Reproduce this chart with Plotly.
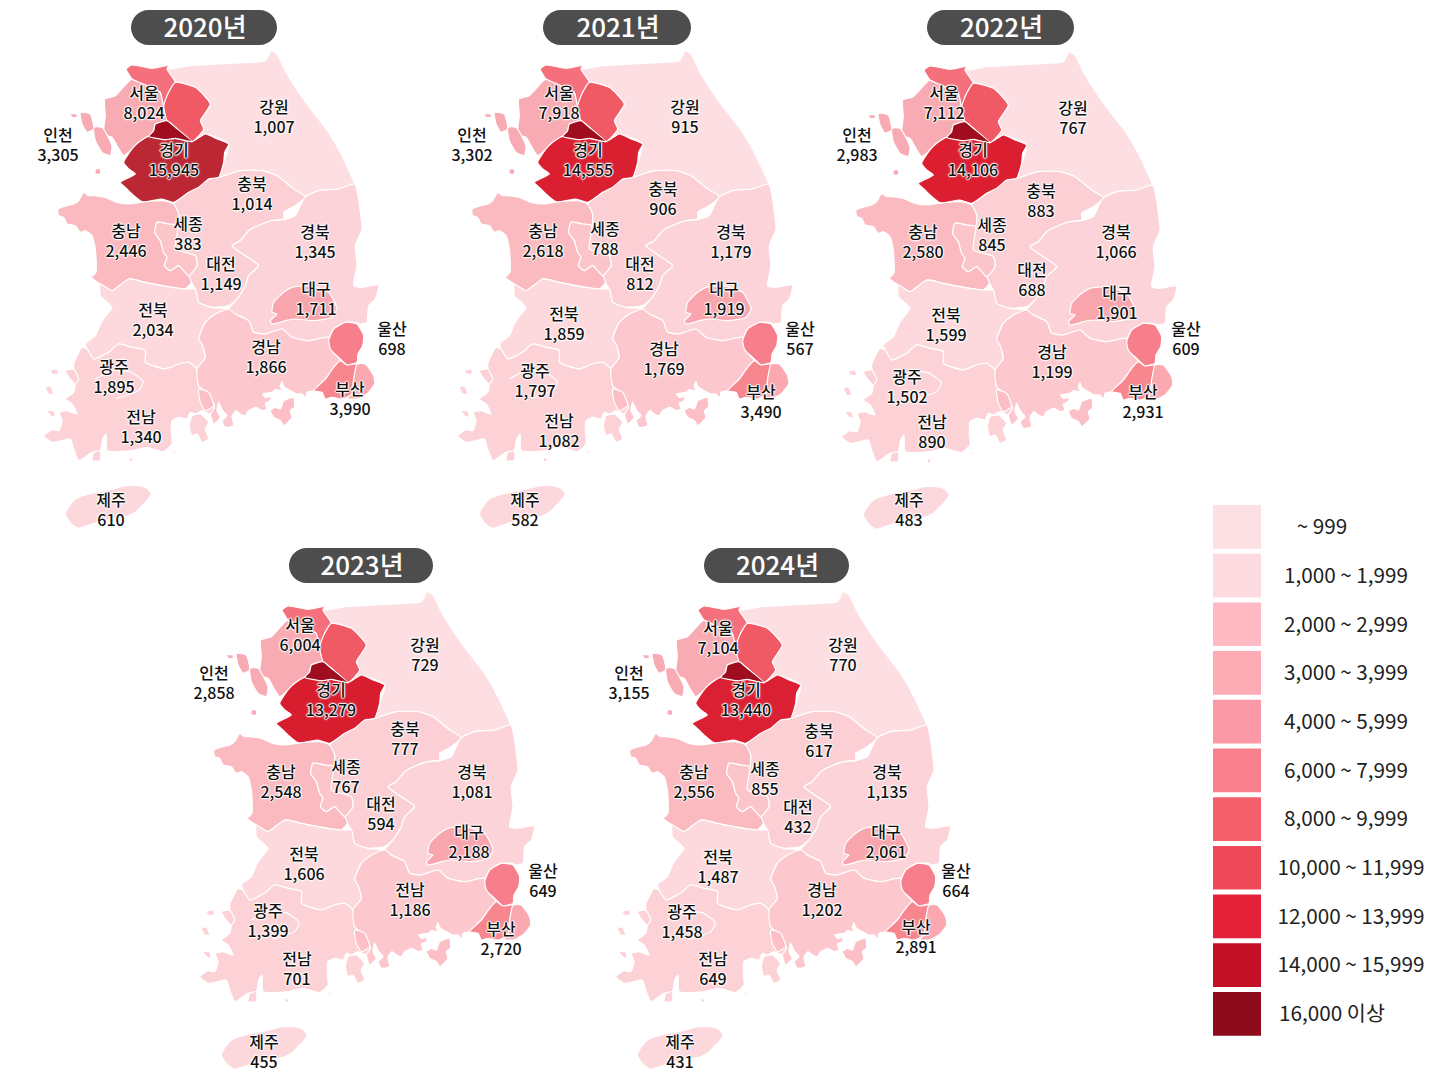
import plotly.graph_objects as go

years = ["2020년", "2021년", "2022년", "2023년", "2024년"]
regions = ["서울", "강원", "인천", "경기", "충북", "충남", "세종", "경북", "대전", "대구", "전북", "울산", "경남", "부산", "광주", "전남", "제주"]
values_2020 = [8024, 1007, 3305, 15945, 1014, 2446, 383, 1345, 1149, 1711, 2034, 698, 1866, 3990, 1895, 1340, 610]
values_2021 = [7918, 915, 3302, 14555, 906, 2618, 788, 1179, 812, 1919, 1859, 567, 1769, 3490, 1797, 1082, 582]
values_2022 = [7112, 767, 2983, 14106, 883, 2580, 845, 1066, 688, 1901, 1599, 609, 1199, 2931, 1502, 890, 483]
values_2023 = [6004, 729, 2858, 13279, 777, 2548, 767, 1081, 594, 2188, 1606, 649, 1186, 2720, 1399, 701, 455]
values_2024 = [7104, 770, 3155, 13440, 617, 2556, 855, 1135, 432, 2061, 1487, 664, 1202, 2891, 1458, 649, 431]
all_values = [values_2020, values_2021, values_2022, values_2023, values_2024]
legend_labels = ["~ 999", "1,000 ~ 1,999", "2,000 ~ 2,999", "3,000 ~ 3,999", "4,000 ~ 5,999", "6,000 ~ 7,999",
                 "8,000 ~ 9,999", "10,000 ~ 11,999", "12,000 ~ 13,999", "14,000 ~ 15,999", "16,000 이상"]

legend_colors = ["#fde0e4", "#fddbe0", "#feb9c2", "#fdabb4", "#fb9aa6", "#f87f8c",
                 "#f35f6b", "#ef4a5a", "#e3223a", "#c41027", "#8c0c1c"]
legend_text_x = [1322, 1346, 1346, 1346, 1346, 1346, 1346, 1351, 1351, 1351, 1332]
gyeonggi_colors = ["#bb2733", "#d91f30", "#dc1f30", "#d81e2e", "#dc2033"]

# where each panel sits, the map outlines below are traced on the 2020 panel
panel_dx = [0, 414, 798, 156, 572]
panel_dy = [0, 0, 1, 541, 541]
pill_x = [(131, 277), (543, 691), (927, 1074), (289, 433), (704, 849)]
pill_y = [(10, 45), (10, 45), (10, 45), (548, 583), (548, 583)]

label_x = [
    [144, 274, 58, 174, 252, 126, 188, 315, 221, 316, 153, 392, 266, 350, 114, 141, 111],
    [559, 685, 472, 588, 663, 543, 605, 731, 640, 724, 564, 800, 664, 761, 535, 559, 525],
    [944, 1073, 857, 973, 1041, 923, 992, 1116, 1032, 1117, 946, 1186, 1052, 1143, 907, 932, 909],
    [300, 425, 214, 331, 405, 281, 346, 472, 381, 469, 304, 543, 410, 501, 268, 297, 264],
    [718, 843, 629, 746, 819, 694, 765, 887, 798, 886, 718, 956, 822, 916, 682, 713, 680],
]
label_y = [
    [105, 119, 147, 162, 196, 243, 236, 244, 276, 301, 322, 341, 359, 401, 379, 429, 512],
    [105, 119, 147, 162, 201, 243, 241, 244, 276, 301, 326, 341, 361, 404, 383, 433, 512],
    [105, 120, 147, 162, 203, 244, 237, 244, 282, 305, 327, 341, 364, 404, 389, 434, 512],
    [637, 657, 685, 702, 741, 784, 779, 784, 816, 844, 866, 883, 902, 941, 923, 971, 1054],
    [640, 657, 685, 702, 743, 784, 781, 784, 819, 844, 869, 883, 902, 939, 924, 971, 1054],
]


def south(pts):
    return [(x, y + 690) for x, y in pts]


# outlines, one unit is a third of a pixel
gangwon = [(415, 60), (470, 50), (560, 45), (650, 40), (700, 35), (718, 5), (735, 15), (760, 65), (800, 130), (840, 185),
           (890, 250), (930, 320), (960, 385), (968, 405), (920, 420), (860, 425), (820, 443), (785, 420), (735, 380),
           (690, 365), (625, 365), (560, 385), (575, 340), (590, 285), (520, 255), (480, 278), (515, 240), (505, 215),
           (535, 165), (490, 115), (430, 100), (405, 60)]
seoul_lobe = [(282, 60), (300, 48), (360, 58), (410, 50), (405, 60), (430, 100), (410, 130), (395, 170), (385, 130),
              (345, 110), (300, 90), (290, 75)]
seoul_east = [(430, 100), (490, 115), (535, 165), (505, 215), (515, 240), (480, 278), (430, 235), (405, 215), (395, 170),
              (410, 130)]
west_gg = [(218, 150), (250, 140), (300, 90), (345, 110), (385, 130), (395, 170), (405, 215), (370, 225), (365, 245),
           (350, 262), (320, 280), (300, 300), (275, 320), (255, 290), (240, 265), (215, 255), (220, 200)]
dark_core = [(370, 225), (405, 215), (430, 235), (480, 278), (430, 268), (400, 272), (350, 262), (365, 245)]
gyeonggi = [(350, 262), (400, 272), (430, 268), (480, 278), (520, 255), (555, 270), (590, 285), (578, 310), (575, 340),
            (560, 385), (530, 390), (500, 415), (470, 430), (425, 460), (390, 450), (330, 458), (300, 435), (285, 420),
            (265, 400), (310, 375), (290, 360), (275, 340), (300, 300), (320, 280)]
incheon = [[(185, 235), (210, 235), (240, 290), (235, 320), (210, 310), (190, 275)],
           [(145, 190), (175, 195), (185, 240), (165, 250), (150, 225)],
           [(115, 195), (135, 195), (135, 205), (120, 205)],
           [(190, 360), (205, 360), (205, 375), (190, 375)]]
chungbuk = [(425, 465), (470, 430), (530, 390), (560, 385), (625, 365), (690, 365), (735, 380), (785, 420), (820, 443),
            (790, 470), (755, 490), (755, 510), (720, 515), (690, 525), (650, 545), (625, 575), (600, 590), (640, 620),
            (680, 650), (650, 680), (640, 710), (615, 750), (590, 770), (540, 775), (500, 760), (490, 720), (478, 700),
            (470, 680), (495, 650), (490, 620), (430, 600), (437, 530), (440, 495)]
chungnam = [(78, 480), (105, 470), (125, 465), (140, 455), (155, 430), (170, 440), (185, 440), (220, 445), (255, 460),
            (290, 465), (340, 458), (395, 455), (425, 465), (440, 495), (437, 530), (410, 525), (375, 520), (368, 550),
            (385, 575), (395, 610), (405, 625), (397, 650), (415, 665), (440, 650), (470, 680), (478, 700), (460, 720),
            (420, 715), (340, 700), (290, 690), (240, 725), (205, 705), (178, 685), (192, 670), (190, 600), (180, 560),
            (160, 545), (145, 550), (130, 530), (105, 525), (95, 505), (80, 500)]
sejong = [(437, 530), (430, 600), (490, 620), (495, 650), (470, 680), (440, 650), (415, 665), (397, 650), (405, 625),
          (395, 610), (385, 575), (368, 550), (375, 520), (410, 525)]
gyeongbuk = [(968, 405), (980, 450), (985, 490), (990, 540), (970, 590), (975, 650), (965, 710), (990, 715), (1040, 708),
             (1030, 750), (1010, 770), (1005, 820), (985, 825), (970, 820), (940, 820), (905, 840), (890, 865), (830, 875),
             (780, 865), (750, 840), (700, 855), (665, 850), (650, 815), (610, 795), (590, 780), (615, 750), (640, 710),
             (650, 680), (680, 650), (640, 620), (600, 590), (625, 575), (650, 545), (690, 525), (720, 515), (755, 512),
             (790, 500), (805, 470), (820, 443), (860, 425), (920, 420)]
daegu = south([(720, 100), (725, 70), (755, 40), (780, 25), (830, 20), (890, 40), (915, 90), (900, 115), (850, 125),
               (790, 120), (760, 125), (745, 130), (720, 135), (715, 125), (735, 105)])
ulsan = south([(940, 130), (975, 135), (995, 170), (992, 200), (978, 225), (975, 250), (945, 258), (925, 240), (905, 222),
               (895, 210), (890, 185), (905, 150)])
busan_west = south([(925, 245), (945, 258), (975, 255), (965, 300), (960, 345), (930, 360), (900, 355), (880, 360),
                    (870, 340), (845, 335), (880, 300), (905, 265)])
busan_east = south([(975, 255), (1000, 255), (1025, 290), (1028, 315), (1005, 345), (975, 360), (945, 358), (960, 345),
                    (965, 300)])
gyeongnam = south([(590, 90), (610, 105), (650, 125), (665, 160), (700, 165), (750, 150), (780, 175), (830, 185), (890, 175),
                   (905, 220), (925, 245), (905, 265), (880, 300), (845, 335), (825, 340), (822, 358), (810, 345),
                   (795, 345), (775, 335), (755, 322), (750, 308), (745, 322), (752, 335), (730, 332), (720, 340),
                   (692, 345), (700, 355), (718, 352), (715, 365), (700, 372), (705, 390), (690, 395), (672, 385),
                   (650, 395), (640, 410), (625, 405), (612, 395), (600, 412), (605, 440), (580, 445), (570, 425),
                   (585, 410), (570, 392), (560, 370), (555, 395), (565, 415), (545, 435), (535, 405),
                   (548, 385), (530, 345), (500, 320), (495, 270), (520, 235), (510, 195), (500, 180), (520, 130), (550, 105)])
gyeongnam_isles = [south([(715, 395), (730, 385), (745, 390), (755, 365), (785, 355), (787, 385), (775, 395), (780, 415),
                          (755, 440), (745, 425), (725, 415)]),
                   south([(500, 330), (530, 340), (545, 380), (520, 395), (505, 370)])]
jeonbuk = south([(205, 50), (205, 15), (240, 35), (290, 0), (340, 10), (420, 25), (460, 30), (490, 30), (500, 70), (540, 85),
                 (590, 90), (550, 105), (520, 130), (500, 180), (510, 195), (520, 235), (495, 270), (470, 250), (440, 255),
                 (400, 270), (340, 250), (340, 215), (300, 205), (260, 195), (230, 220), (185, 240), (165, 210), (160, 195),
                 (190, 170), (210, 125), (240, 85)])
jeonnam = south([(165, 210), (185, 240), (230, 220), (260, 195), (300, 205), (340, 215), (340, 250), (400, 270), (440, 255),
                 (470, 250), (495, 270), (500, 320), (530, 345), (548, 385), (535, 405), (510, 395), (490, 405), (475, 400),
                 (465, 420), (440, 415), (420, 425), (418, 458), (420, 495), (395, 518), (345, 505), (300, 515), (250, 518),
                 (225, 515), (222, 465), (212, 480), (205, 515), (180, 520), (165, 530), (140, 545), (125, 510), (115, 480),
                 (90, 485), (60, 490), (35, 470), (60, 452), (80, 455), (90, 425), (82, 400), (105, 395), (135, 405),
                 (120, 375), (100, 360), (125, 340), (130, 310), (125, 255), (150, 205)])
jeonnam_isles = [south(p) for p in [
    [(55, 275), (75, 270), (80, 285), (60, 285)],
    [(100, 275), (125, 270), (140, 300), (130, 315), (110, 295)],
    [(40, 325), (55, 320), (65, 345), (50, 345)],
    [(45, 395), (65, 395), (70, 415), (55, 410)],
    [(480, 410), (505, 405), (530, 430), (520, 450), (530, 480), (510, 490), (495, 465), (480, 470), (472, 440)],
    [(185, 520), (205, 515), (205, 545), (180, 545)],
    [(290, 535), (305, 540), (295, 550)],
    [(420, 510), (430, 520), (425, 525)],
]]
gwangju_arc = south([(190, 300), (240, 275), (294, 278), (334, 308), (320, 335), (254, 358)])
jeju = south([(100, 705), (112, 680), (130, 660), (160, 648), (190, 640), (235, 632), (280, 620), (320, 620), (345, 628),
              (358, 645), (345, 665), (330, 680), (310, 700), (285, 712), (250, 718), (220, 725), (180, 735), (140, 748),
              (118, 735)])

shapes_and_fills = [
    (gangwon, "#fddfe3"), (chungbuk, "#fbcfd4"), (gyeongbuk, "#fcd3d8"), (chungnam, "#fbb9c0"), (sejong, "#fbc5ca"),
    (jeonbuk, "#fdd9dd"), (jeonnam, "#fcd2d6"), (gyeongnam, "#fcc8ce"), (daegu, "#f9a5ae"), (ulsan, "#f77f8b"),
    (busan_west, "#f7868f"), (busan_east, "#fba8b0"), (west_gg, "#f9abb3"), (seoul_lobe, "#f4707c"),
    (seoul_east, "#ef5a65"), (jeju, "#fcd8dc"),
]
for p in incheon:
    shapes_and_fills.append((p, "#f9abb3"))
for p in gyeongnam_isles:
    shapes_and_fills.append((p, "#fcbfc6"))
for p in jeonnam_isles:
    shapes_and_fills.append((p, "#fcd2d6"))


def to_px(pts, dx, dy, close=True):
    line = list(pts) + [pts[0]] if close else list(pts)
    xs = [32 + p[0] / 3 + dx for p in line]
    ys = [49 + p[1] / 3 + dy for p in line]
    return xs, ys


fig = go.Figure()
outline = dict(color="white", width=1.2, shape="spline", smoothing=0.5)

for i in range(len(years)):
    dx, dy = panel_dx[i], panel_dy[i]
    drawn = shapes_and_fills + [(gyeonggi, gyeonggi_colors[i]), (dark_core, "#a00d1e")]
    for pts, color in drawn:
        xs, ys = to_px(pts, dx, dy)
        fig.add_trace(go.Scatter(x=xs, y=ys, mode="lines", fill="toself", fillcolor=color,
                                 line=outline, hoverinfo="skip", showlegend=False))
    xs, ys = to_px(gwangju_arc, dx, dy, close=False)
    fig.add_trace(go.Scatter(x=xs, y=ys, mode="lines", line=outline, hoverinfo="skip", showlegend=False))

halo = "1px 0 1px #fff, -1px 0 1px #fff, 0 1px 1px #fff, 0 -1px 1px #fff, 0 0 3px #fff"
for i in range(len(years)):
    names = list(regions)
    if years[i] == "2023년":
        # the source prints this name on the 경남 spot in 2023
        names[regions.index("경남")] = "전남"
    texts = [n + "<br>" + format(v, ",") for n, v in zip(names, all_values[i])]
    fig.add_trace(go.Scatter(x=label_x[i], y=label_y[i], mode="text", text=texts, textposition="middle center",
                             textfont=dict(family="Noto Sans CJK KR", size=16, color="#111111", weight=500, shadow=halo),
                             hoverinfo="skip", showlegend=False))

shapes = []
for i in range(len(years)):
    x0, x1 = pill_x[i]
    y0, y1 = pill_y[i]
    r = (y1 - y0) / 2
    k = r * 0.45
    shapes.append(dict(type="path", xref="x", yref="y", fillcolor="#4d4d4d", line=dict(width=0), layer="below",
                       path=f"M{x0 + r},{y0} L{x1 - r},{y0} C{x1 - k},{y0} {x1},{y0 + k} {x1},{y0 + r} "
                            f"C{x1},{y1 - k} {x1 - k},{y1} {x1 - r},{y1} L{x0 + r},{y1} "
                            f"C{x0 + k},{y1} {x0},{y1 - k} {x0},{y0 + r} C{x0},{y0 + k} {x0 + k},{y0} {x0 + r},{y0} Z"))
fig.add_trace(go.Scatter(x=[(a + b) / 2 + 1 for a, b in pill_x], y=[(a + b) / 2 + 3 for a, b in pill_y], mode="text", text=years,
                         textposition="middle center",
                         textfont=dict(family="Noto Sans CJK KR", size=26, color="white", weight=500),
                         hoverinfo="skip", showlegend=False))

legend_mid = []
for i in range(len(legend_labels)):
    top = 505 + i * 48.7
    shapes.append(dict(type="rect", xref="x", yref="y", x0=1213, x1=1261, y0=top, y1=top + 43.7,
                       fillcolor=legend_colors[i], line=dict(width=0)))
    legend_mid.append(top + 24)
fig.add_trace(go.Scatter(x=legend_text_x, y=legend_mid, mode="text", text=legend_labels, textposition="middle center",
                         textfont=dict(family="Noto Sans CJK KR", size=20.7, color="#222222"),
                         hoverinfo="skip", showlegend=False))

fig.update_layout(width=1448, height=1086, margin=dict(l=0, r=0, t=0, b=0), paper_bgcolor="white", plot_bgcolor="white",
                  shapes=shapes, showlegend=False)
fig.update_xaxes(range=[0, 1448], visible=False, fixedrange=True)
fig.update_yaxes(range=[1086, 0], visible=False, fixedrange=True)

fig.write_html("out.html", config=dict(displayModeBar=False), post_script="document.body.style.margin='0';")
